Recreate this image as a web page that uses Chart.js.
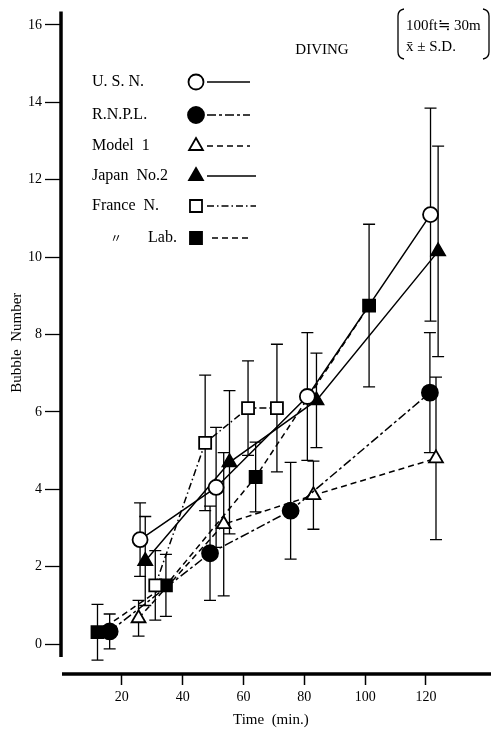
<!DOCTYPE html>
<html>
<head>
<meta charset="utf-8">
<script src="https://cdn.jsdelivr.net/npm/chart.js@4.4.1/dist/chart.umd.min.js"></script>
<style>
  html, body { margin: 0; padding: 0; background: #fff; }
  #wrap { width: 491px; height: 729px; }
</style>
</head>
<body>
<div id="wrap"><canvas id="chart" width="491" height="729"></canvas></div>
<script>
// --- values: time (min), mean bubble number, S.D. ---
const usnX = [26, 51, 81, 121.5];
const usnY = [2.7, 4.05, 6.4, 11.1];
const usnSD = [0.95, 1.55, 1.65, 2.75];

const rnplX = [16, 49, 75.5, 121.3];
const rnplY = [0.33, 2.35, 3.45, 6.5];
const rnplSD = [0.45, 1.22, 1.25, 1.55];

const model1X = [25.5, 53.5, 83, 123.3];
const model1Y = [0.67, 3.1, 3.85, 4.8];
const model1SD = [0.46, 1.85, 0.88, 2.1];

const japanX = [27.7, 55.4, 84, 124];
const japanY = [2.15, 4.7, 6.3, 10.15];
const japanSD = [1.15, 1.85, 1.22, 2.72];

const franceX = [31, 47.4, 61.5, 71];
const franceY = [1.52, 5.2, 6.1, 6.1];
const franceSD = [0.9, 1.75, 1.22, 1.65];

const labX = [12, 34.5, 64, 101.3];
const labY = [0.31, 1.52, 4.32, 8.75];
const labSD = [0.72, 0.8, 0.9, 2.1];

const xTicks = [20, 40, 60, 80, 100, 120];
const yTicks = [0, 2, 4, 6, 8, 10, 12, 14, 16];

const INK = '#000';
const SERIF = '"Liberation Serif", "DejaVu Serif", serif';

// series look (legend order)
const series = [
    { name: 'U. S. N.',    x: usnX,    y: usnY,    sd: usnSD,    style: 'circle',   filled: false, dash: [],             r: 7.5 },
    { name: 'R.N.P.L.',    x: rnplX,   y: rnplY,   sd: rnplSD,   style: 'circle',   filled: true,  dash: [9, 3, 3, 3],   r: 8 },
    { name: 'Model  1',    x: model1X, y: model1Y, sd: model1SD, style: 'triangle', filled: false, dash: [6, 4],         r: 8 },
    { name: 'Japan  No.2', x: japanX,  y: japanY,  sd: japanSD,  style: 'triangle', filled: true,  dash: [],             r: 8 },
    { name: 'France  N.',  x: franceX, y: franceY, sd: franceSD, style: 'rect',     filled: false, dash: [7, 3, 1.5, 3], r: 8.5 },
    { name: 'Lab.',        x: labX,    y: labY,    sd: labSD,    style: 'rect',     filled: true,  dash: [6, 4],         r: 8.5 }
];

const datasets = series.map(s => ({
    label: s.name,
    data: s.x.map((v, i) => ({ x: v, y: s.y[i] })),
    borderColor: INK,
    borderWidth: 1.5,
    borderDash: s.dash,
    pointStyle: s.style,
    pointRadius: s.r,
    pointHoverRadius: s.r,
    pointBackgroundColor: s.filled ? INK : '#fff',
    pointBorderColor: INK,
    pointBorderWidth: 1.8,
    tension: 0,
    fill: false
}));

// draws a marker like chart.js does, used for the hand-made legend
function drawMarker(ctx, style, filled, x, y, r) {
    ctx.save();
    ctx.beginPath();
    if (style === 'circle') {
        ctx.arc(x, y, r, 0, Math.PI * 2);
    } else if (style === 'triangle') {
        for (let k = 0; k < 3; k++) {
            const a = k * 2 * Math.PI / 3;
            const px = x + Math.sin(a) * r, py = y - Math.cos(a) * r;
            k ? ctx.lineTo(px, py) : ctx.moveTo(px, py);
        }
        ctx.closePath();
    } else {
        const h = Math.SQRT1_2 * r;
        ctx.rect(x - h, y - h, 2 * h, 2 * h);
    }
    ctx.fillStyle = filled ? INK : '#fff';
    ctx.fill();
    ctx.lineWidth = 1.8;
    ctx.strokeStyle = INK;
    ctx.stroke();
    ctx.restore();
}

const errorBars = {
    id: 'errorBars',
    beforeDatasetsDraw(chart) {
        const { ctx, scales: { x, y } } = chart;
        ctx.save();
        ctx.strokeStyle = INK;
        ctx.lineWidth = 1.3;
        series.forEach(s => {
            s.x.forEach((v, i) => {
                const px = x.getPixelForValue(v);
                const top = y.getPixelForValue(s.y[i] + s.sd[i]);
                const bot = y.getPixelForValue(s.y[i] - s.sd[i]);
                ctx.beginPath();
                ctx.moveTo(px, top); ctx.lineTo(px, bot);
                ctx.moveTo(px - 6, top); ctx.lineTo(px + 6, top);
                ctx.moveTo(px - 6, bot); ctx.lineTo(px + 6, bot);
                ctx.stroke();
            });
        });
        ctx.restore();
    }
};

// the two detached thick axis lines
const axisLines = {
    id: 'axisLines',
    afterDraw(chart) {
        const { ctx, chartArea: a, scales: { y } } = chart;
        ctx.save();
        ctx.strokeStyle = INK;
        ctx.lineWidth = 3.5;
        ctx.beginPath();
        ctx.moveTo(a.left, a.top);
        ctx.lineTo(a.left, y.getPixelForValue(-0.33));
        ctx.stroke();
        ctx.beginPath();
        ctx.moveTo(a.left + 1, a.bottom);
        ctx.lineTo(chart.width, a.bottom);
        ctx.stroke();
        ctx.restore();
    }
};

const legendNotes = {
    id: 'legendNotes',
    afterDraw(chart) {
        const ctx = chart.ctx;
        const rows = [82, 115, 146, 176, 206, 238];
        ctx.save();
        ctx.fillStyle = INK;
        ctx.strokeStyle = INK;
        ctx.font = '16px ' + SERIF;
        ctx.textBaseline = 'middle';
        ctx.textAlign = 'left';
        series.forEach((s, i) => {
            const ry = rows[i];
            if (i === 5) {
                ctx.font = '12px "Noto Sans CJK JP", ' + SERIF;
                ctx.fillText('〃', 110, ry);
                ctx.font = '16px ' + SERIF;
                ctx.fillText(s.name, 148, ry);
            } else {
                ctx.fillText(s.name, 92, ry);
            }
            ctx.save();
            ctx.lineWidth = 1.5;
            ctx.setLineDash(s.dash);
            ctx.beginPath();
            ctx.moveTo(i === 5 ? 212 : 207, ry);
            ctx.lineTo(i === 3 || i === 4 ? 256 : 250, ry);
            ctx.stroke();
            ctx.restore();
            drawMarker(ctx, s.style, s.filled, 196, ry, s.r);
        });

        ctx.font = '15px ' + SERIF;
        ctx.textAlign = 'center';
        ctx.fillText('DIVING', 322, 50);
        ctx.textAlign = 'left';
        ctx.fillText('100ft\u2252 30m', 406, 26);
        ctx.fillText('x\u0304 \u00b1 S.D.', 406, 47);

        // brackets round the note
        ctx.lineWidth = 1.3;
        ctx.beginPath();
        ctx.moveTo(404, 9); ctx.quadraticCurveTo(398, 10, 398, 16);
        ctx.lineTo(398, 52); ctx.quadraticCurveTo(398, 58, 404, 59);
        ctx.moveTo(483, 9); ctx.quadraticCurveTo(489, 10, 489, 16);
        ctx.lineTo(489, 52); ctx.quadraticCurveTo(489, 58, 483, 59);
        ctx.stroke();
        ctx.restore();
    }
};

new Chart(document.getElementById('chart'), {
    type: 'line',
    data: { datasets },
    plugins: [errorBars, axisLines, legendNotes],
    options: {
        responsive: false,
        animation: false,
        layout: { padding: { top: 8, right: 0, left: 0, bottom: 0 } },
        plugins: { legend: { display: false }, tooltip: { enabled: false } },
        scales: {
            x: {
                type: 'linear',
                min: 0,
                max: 138,
                afterBuildTicks: s => { s.ticks = xTicks.map(v => ({ value: v })); },
                afterFit: s => { s.height = 55; },
                border: { display: false },
                grid: { drawOnChartArea: false, drawTicks: true, tickLength: 11, tickColor: INK, tickWidth: 1.5 },
                ticks: { color: INK, font: { family: SERIF, size: 14 }, padding: 4, maxRotation: 0 },
                title: { display: true, text: 'Time  (min.)', color: INK, font: { family: SERIF, size: 15 }, padding: { top: 1, bottom: 0 } }
            },
            y: {
                min: -0.77,
                max: 16.35,
                afterBuildTicks: s => { s.ticks = yTicks.map(v => ({ value: v })); },
                afterFit: s => { s.width = 61; },
                border: { display: false },
                grid: { drawOnChartArea: false, drawTicks: true, tickLength: 16, tickColor: INK, tickWidth: 1.3 },
                ticks: { color: INK, font: { family: SERIF, size: 14 }, padding: 3 },
                title: { display: true, text: 'Bubble  Number', color: INK, font: { family: SERIF, size: 15 }, padding: { top: 8, bottom: 0 } }
            }
        }
    }
});
</script>
</body>
</html>
